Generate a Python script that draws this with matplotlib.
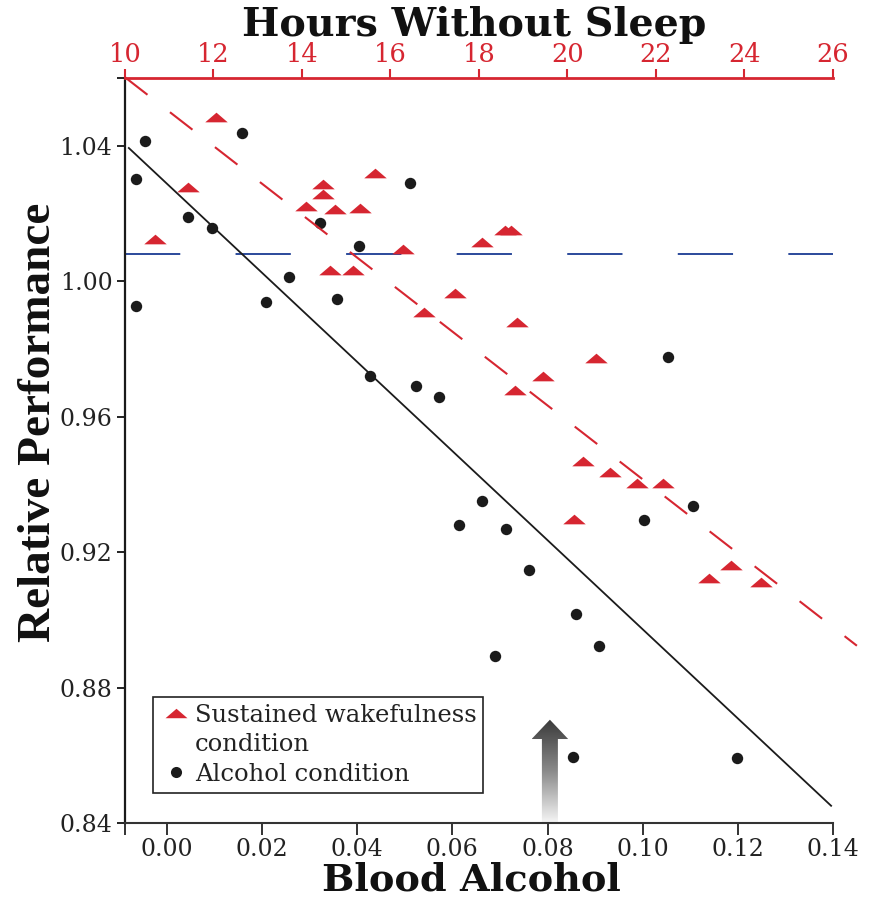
import numpy as np
import matplotlib
matplotlib.use("Agg")
import matplotlib.pyplot as plt
from matplotlib.path import Path
from matplotlib.lines import Line2D
from matplotlib.patches import Polygon
from matplotlib.colors import LinearSegmentedColormap

# ---------------- data ----------------
# Alcohol condition (x = blood alcohol, y = relative performance)
bac = [-0.0045, -0.0065, 0.0158, 0.0044, 0.0094, 0.0321, 0.0510, 0.0403,
       0.0256, -0.0065, 0.0208, 0.0357, 0.0427, 0.0523, 0.0571, 0.1054,
       0.0663, 0.0614, 0.0712, 0.0761, 0.0689, 0.0859, 0.0908, 0.1003,
       0.1106, 0.0853, 0.1199]
perf_alcohol = [1.0414, 1.0302, 1.0439, 1.0191, 1.0157, 1.0171, 1.0290, 1.0104,
                1.0013, 0.9928, 0.9938, 0.9946, 0.9720, 0.9691, 0.9658, 0.9775,
                0.9351, 0.9281, 0.9269, 0.9146, 0.8892, 0.9018, 0.8924, 0.9296,
                0.9335, 0.8594, 0.8593]

# Sustained wakefulness condition (x = hours without sleep)
hours = [12.06, 11.43, 10.68, 14.47, 14.48, 14.08, 14.74, 15.31, 15.66, 16.28,
         14.63, 15.15, 18.07, 18.59, 18.72, 17.45, 16.76, 18.87, 20.64, 19.45,
         18.82, 20.36, 20.97, 21.57, 22.16, 20.15, 23.70, 23.19, 24.37]
perf_wake = [1.0486, 1.0279, 1.0126, 1.0287, 1.0257, 1.0222, 1.0213, 1.0217,
             1.0319, 1.0096, 1.0032, 1.0033, 1.0117, 1.0150, 1.0150, 0.9965,
             0.9910, 0.9880, 0.9774, 0.9720, 0.9680, 0.9469, 0.9436, 0.9404,
             0.9404, 0.9297, 0.9162, 0.9123, 0.9111]

# Regression lines (intercept, slope) and their extents
alcohol_fit = [1.0288, -1.316]
alcohol_fit_range = [-0.008, 0.1396]
wake_fit = [1.1617, -0.010149]
wake_fit_range = [10.0, 26.54]
baseline_perf = 1.008

# Axes ranges and ticks
bac_lim = [-0.0088, 0.14]
hour_lim = [10, 26]
perf_lim = [0.84, 1.06]
bac_ticks = [-0.0088, 0.00, 0.02, 0.04, 0.06, 0.08, 0.10, 0.12, 0.14]
bac_ticklabels = ["", "0.00", "0.02", "0.04", "0.06", "0.08", "0.10", "0.12", "0.14"]
hour_ticks = [10, 12, 14, 16, 18, 20, 22, 24, 26]
hour_ticklabels = ["10", "12", "14", "16", "18", "20", "22", "24", "26"]
perf_ticks = [0.84, 0.88, 0.92, 0.96, 1.00, 1.04, 1.06]
perf_ticklabels = ["0.84", "0.88", "0.92", "0.96", "1.00", "1.04", ""]

legal_limit_bac = 0.0805

# ---------------- style ----------------
RED = "#d62631"
BLUE = "#2b4a9b"
BLACK = "#1b1b1b"
TEXT = "#222222"

plt.rcParams["font.family"] = ["DejaVu Serif"]
plt.rcParams["lines.scale_dashes"] = False

fig = plt.figure(figsize=(8.70, 9.01), dpi=100)
ax = fig.add_axes([125 / 870, 78 / 901, 708 / 870, 745 / 901])
ax2 = ax.twiny()

# flattened triangle marker
tri_marker = Path([(-1.0, -0.43), (1.0, -0.43), (0.0, 0.43), (-1.0, -0.43)],
                  [Path.MOVETO, Path.LINETO, Path.LINETO, Path.CLOSEPOLY])

# ----- alcohol axis (bottom) -----
xa = np.array(alcohol_fit_range)
ax.plot(xa, alcohol_fit[0] + alcohol_fit[1] * xa, color=BLACK, lw=1.3, zorder=2)
ax.axhline(baseline_perf, color=BLUE, lw=1.4, dashes=(39.8, 39.8), zorder=1)
ax.plot(bac, perf_alcohol, ls="none", marker="o", ms=8.2, mew=0, color=BLACK, zorder=3)

# gradient arrow at legal limit
sw, hw = 0.00168, 0.00384
head_base, apex = 0.8648, 0.8705
arrow_verts = [(legal_limit_bac - sw, perf_lim[0]), (legal_limit_bac + sw, perf_lim[0]),
               (legal_limit_bac + sw, head_base), (legal_limit_bac + hw, head_base),
               (legal_limit_bac, apex), (legal_limit_bac - hw, head_base),
               (legal_limit_bac - sw, head_base)]
poly = Polygon(arrow_verts, closed=True, facecolor="none", edgecolor="none",
               transform=ax.transData)
ax.add_patch(poly)
cmap = LinearSegmentedColormap.from_list("arr", ["#f6f6f6", "#8a8a8a", "#3a3a3a"])
grad = np.linspace(0, 1, 256).reshape(-1, 1)
im = ax.imshow(grad, extent=[legal_limit_bac - hw, legal_limit_bac + hw, perf_lim[0], apex],
               origin="lower", cmap=cmap, aspect="auto", zorder=1.5, interpolation="bilinear")
im.set_clip_path(poly)

ax.set_xlim(bac_lim)
ax.set_ylim(perf_lim)
ax.set_xticks(bac_ticks)
ax.set_xticklabels(bac_ticklabels)
ax.set_yticks(perf_ticks)
ax.set_yticklabels(perf_ticklabels)
ax.tick_params(axis="x", direction="out", length=8.5, width=1.4, colors="#333333",
               labelsize=17, pad=2.5, labelcolor=TEXT)
ax.tick_params(axis="y", direction="out", length=6, width=1.4, colors="#222222",
               labelsize=17, pad=3, labelcolor=TEXT)
for s in ["top", "right"]:
    ax.spines[s].set_visible(False)
ax.spines["left"].set_linewidth(1.6)
ax.spines["left"].set_color("#1a1a1a")
ax.spines["bottom"].set_linewidth(1.5)
ax.spines["bottom"].set_color("#333333")

ax.set_xlabel("Blood Alcohol", fontsize=27.5, fontweight="bold", family="DejaVu Serif",
              color="#111111")
ax.xaxis.set_label_coords(0.4894, -0.0520)
ax.set_ylabel("Relative Performance", fontsize=34, fontweight="bold",
              family="Liberation Serif", color="#111111")
ax.yaxis.set_label_coords(-0.092, 0.5376)

# ----- hours axis (top) -----
xh = np.array(wake_fit_range)
ax2.plot(hours, perf_wake, ls="none", marker=tri_marker, ms=16.2, mew=0, color=RED, zorder=3)
ax2.plot(xh, wake_fit[0] + wake_fit[1] * xh, color=RED, lw=1.5, dashes=(20.5, 20.5),
         zorder=4, clip_on=False)
ax2.set_xlim(hour_lim)
ax2.set_xticks(hour_ticks)
ax2.set_xticklabels(hour_ticklabels)
ax2.tick_params(axis="x", direction="out", length=6.5, width=1.5, colors=RED,
                labelsize=18.5, pad=1.5)
for s in ["left", "right", "bottom"]:
    ax2.spines[s].set_visible(False)
ax2.spines["top"].set_color(RED)
ax2.spines["top"].set_linewidth(2.0)
ax2.set_xlabel("Hours Without Sleep", fontsize=28.5, fontweight="bold",
               family="DejaVu Serif", color="#111111")
ax2.xaxis.set_label_coords(0.4934, 1.0564)

# ----- legend -----
handles = [Line2D([], [], ls="none", marker=tri_marker, ms=15.8, mew=0, color=RED),
           Line2D([], [], ls="none", marker="None"),
           Line2D([], [], ls="none", marker="o", ms=8, mew=0, color=BLACK)]
labels = ["Sustained wakefulness", "condition", "Alcohol condition"]
leg = ax2.legend(handles, labels, loc="upper left", bbox_to_anchor=(0.0395, 0.1691),
                 bbox_transform=ax.transAxes, borderaxespad=0, borderpad=0.28,
                 handlelength=1.33, handletextpad=0.115, labelspacing=0.27,
                 fontsize=17.5, fancybox=False, framealpha=1, edgecolor="#222222",
                 labelcolor=TEXT)
leg.get_frame().set_linewidth(1.2)

fig.savefig("out.png", dpi=100)
